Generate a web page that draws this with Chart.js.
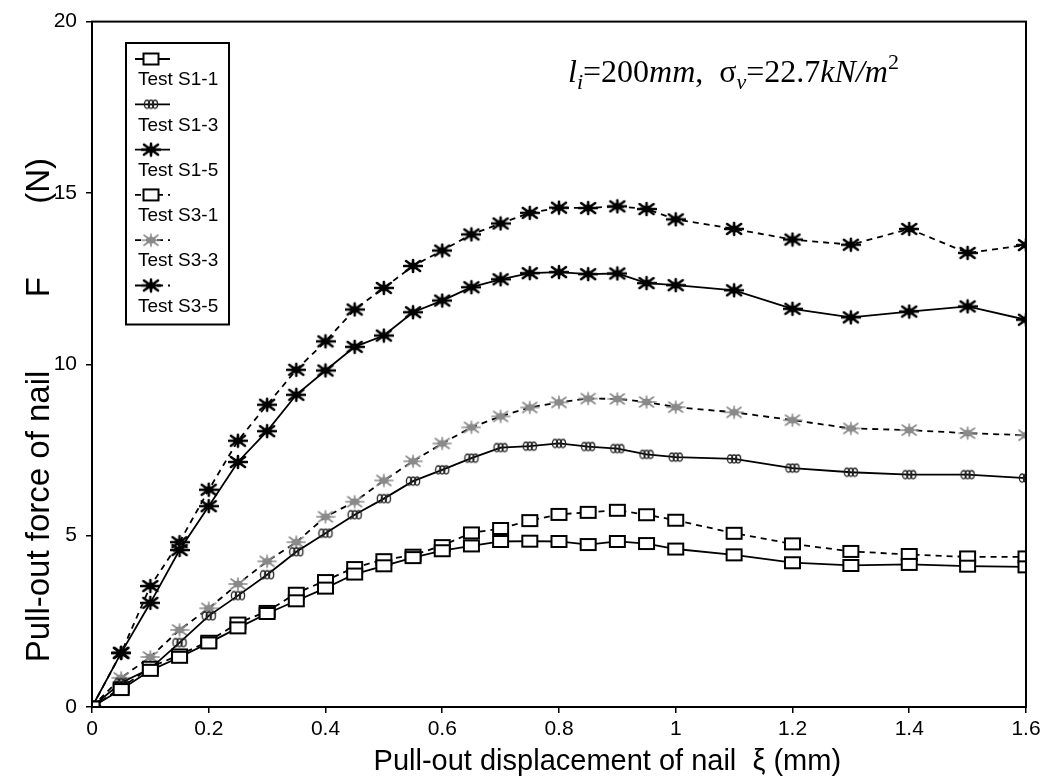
<!DOCTYPE html>
<html>
<head>
<meta charset="utf-8">
<script src="https://cdn.jsdelivr.net/npm/chart.js@4.4.1/dist/chart.umd.min.js"></script>
<style>
  html, body { margin: 0; padding: 0; background: #fff; }
  #wrap { width: 1059px; height: 784px; }
</style>
</head>
<body>
<div id="wrap"><canvas id="pullout" width="1059" height="784"></canvas></div>
<script>
// displacement (mm)
const xs = [0, 0.05, 0.1, 0.15, 0.2, 0.25, 0.3, 0.35, 0.4, 0.45, 0.5, 0.55, 0.6, 0.65, 0.7, 0.75,
            0.8, 0.85, 0.9, 0.95, 1.0, 1.1, 1.2, 1.3, 1.4, 1.5, 1.6];

// pull-out force (N)
const s1_1 = [0, 0.51, 1.07, 1.45, 1.87, 2.31, 2.73, 3.10, 3.47, 3.88, 4.12, 4.36, 4.56, 4.70, 4.83, 4.84,
              4.83, 4.74, 4.83, 4.77, 4.61, 4.44, 4.21, 4.13, 4.16, 4.11, 4.09];
const s1_3 = [0, 0.71, 1.12, 1.88, 2.66, 3.25, 3.86, 4.53, 5.07, 5.61, 6.08, 6.59, 6.92, 7.26, 7.57, 7.61,
              7.69, 7.60, 7.54, 7.37, 7.29, 7.24, 6.97, 6.85, 6.78, 6.78, 6.68];
const s1_5 = [0, 1.58, 3.04, 4.58, 5.86, 7.15, 8.05, 9.11, 9.82, 10.51, 10.84, 11.52, 11.86, 12.25, 12.48, 12.66,
              12.69, 12.63, 12.65, 12.37, 12.31, 12.16, 11.62, 11.37, 11.54, 11.69, 11.30];
const s3_1 = [0, 0.56, 1.16, 1.52, 1.92, 2.45, 2.79, 3.32, 3.69, 4.07, 4.30, 4.43, 4.71, 5.08, 5.21, 5.44,
              5.62, 5.68, 5.74, 5.61, 5.45, 5.07, 4.76, 4.54, 4.45, 4.38, 4.38];
const s3_3 = [0, 0.85, 1.46, 2.25, 2.88, 3.59, 4.25, 4.81, 5.55, 5.99, 6.61, 7.17, 7.69, 8.16, 8.48, 8.74,
              8.89, 9.00, 8.99, 8.90, 8.75, 8.60, 8.37, 8.13, 8.08, 7.99, 7.93];
const s3_5 = [0, 1.58, 3.53, 4.81, 6.34, 7.77, 8.82, 9.84, 10.67, 11.60, 12.23, 12.87, 13.32, 13.79, 14.11, 14.42,
              14.57, 14.56, 14.61, 14.53, 14.23, 13.95, 13.64, 13.49, 13.95, 13.25, 13.48];

const xTicks = [0, 0.2, 0.4, 0.6, 0.8, 1, 1.2, 1.4, 1.6];
const yTicks = [0, 5, 10, 15, 20];

// little marker images
function makeMarker(w, h, draw) {
    const c = document.createElement('canvas');
    c.width = w; c.height = h;
    draw(c.getContext('2d'), w, h);
    return c;
}
const boxMark = makeMarker(19, 15, (g, w, h) => {
    g.fillStyle = '#fff'; g.fillRect(2, 2, w - 4, h - 4);
    g.strokeStyle = '#000'; g.lineWidth = 2; g.strokeRect(2, 2, w - 4, h - 4);
});
const ringMark = makeMarker(18, 12, (g) => {
    g.strokeStyle = '#222'; g.lineWidth = 1.3;
    [5, 9, 13].forEach(cx => { g.beginPath(); g.ellipse(cx, 6, 2.6, 4, 0, 0, Math.PI * 2); g.stroke(); });
});
function starMark(color, lw) {
    return makeMarker(20, 16, (g, w, h) => {
        g.strokeStyle = color; g.lineWidth = lw; g.lineCap = 'round';
        g.beginPath();
        g.moveTo(3, 3); g.lineTo(w - 3, h - 3);
        g.moveTo(3, h - 3); g.lineTo(w - 3, 3);
        g.moveTo(1, h / 2); g.lineTo(w - 1, h / 2);
        g.moveTo(w / 2, 2); g.lineTo(w / 2, h - 2);
        g.stroke();
        g.fillStyle = color;
        g.beginPath(); g.ellipse(w / 2, h / 2, 5, 3.5, 0, 0, Math.PI * 2); g.fill();
    });
}
const heavyStar = starMark('#000', 2.6);
const greyStar = starMark('#8a8a8a', 1.6);

const pts = arr => xs.map((x, i) => ({ x: x, y: arr[i] }));

const series = [
    { label: 'Test S1-1', data: pts(s1_1), pointStyle: boxMark, borderDash: [] },
    { label: 'Test S1-3', data: pts(s1_3), pointStyle: ringMark, borderDash: [] },
    { label: 'Test S1-5', data: pts(s1_5), pointStyle: heavyStar, borderDash: [] },
    { label: 'Test S3-1', data: pts(s3_1), pointStyle: boxMark, borderDash: [6, 5] },
    { label: 'Test S3-3', data: pts(s3_3), pointStyle: greyStar, borderDash: [6, 5] },
    { label: 'Test S3-5', data: pts(s3_5), pointStyle: heavyStar, borderDash: [6, 5] }
].map(d => Object.assign(d, {
    borderColor: '#000', backgroundColor: '#000', borderWidth: 1.8,
    tension: 0, pointRadius: 7, pointHoverRadius: 7
}));

// frame round the plot
const frame = {
    id: 'frame',
    afterDatasetsDraw(chart) {
        const { ctx, chartArea: a } = chart;
        ctx.save();
        ctx.strokeStyle = '#000'; ctx.lineWidth = 2;
        ctx.strokeRect(a.left, a.top, a.right - a.left, a.bottom - a.top);
        ctx.restore();
    }
};

// legend: sample line above its label, boxed
const stackedLegend = {
    id: 'stackedLegend',
    afterDraw(chart) {
        const ctx = chart.ctx;
        const x0 = 126, y0 = 43, w = 103, step = 45.3;
        const n = chart.data.datasets.length;
        const h = 16 + (n - 1) * step + 39;
        ctx.save();
        ctx.fillStyle = '#fff';
        ctx.fillRect(x0, y0, w, h);
        ctx.strokeStyle = '#000'; ctx.lineWidth = 2;
        ctx.strokeRect(x0, y0, w, h);
        chart.data.datasets.forEach((ds, i) => {
            const ly = y0 + 16 + i * step;
            ctx.lineWidth = ds.borderWidth;
            ctx.setLineDash(ds.borderDash);
            ctx.beginPath(); ctx.moveTo(x0 + 9, ly); ctx.lineTo(x0 + 44, ly); ctx.stroke();
            ctx.setLineDash([]);
            const m = ds.pointStyle;
            ctx.drawImage(m, x0 + 25 - m.width / 2, ly - m.height / 2);
            ctx.fillStyle = '#000';
            ctx.font = '19px "Liberation Sans", Arial, sans-serif';
            ctx.textBaseline = 'middle';
            ctx.fillText(ds.label, x0 + 12, ly + 21);
        });
        ctx.restore();
    }
};

// test condition note
const note = {
    id: 'note',
    afterDraw(chart) {
        const ctx = chart.ctx;
        const parts = [
            { t: 'l', f: 'italic', dy: 0 }, { t: 'i', f: 'italic', dy: 7, s: 0.7 },
            { t: '=200', f: '', dy: 0 }, { t: 'mm', f: 'italic', dy: 0 }, { t: ',  ', f: '', dy: 0 },
            { t: 'σ', f: '', dy: 0 }, { t: 'v', f: 'italic', dy: 7, s: 0.7 },
            { t: '=22.7', f: '', dy: 0 }, { t: 'kN/m', f: 'italic', dy: 0 }, { t: '2', f: '', dy: -13, s: 0.7 }
        ];
        let x = 568;
        const base = 82, size = 31.5;
        ctx.save();
        ctx.fillStyle = '#000'; ctx.textBaseline = 'alphabetic';
        parts.forEach(p => {
            ctx.font = p.f + ' ' + Math.round(size * (p.s || 1)) + 'px "Liberation Serif", "Times New Roman", serif';
            ctx.fillText(p.t, x, base + p.dy);
            x += ctx.measureText(p.t).width;
        });
        ctx.restore();
    }
};

const tickFont = { family: '"Liberation Sans", Arial, sans-serif', size: 21 };
const titleFont = { family: '"Liberation Sans", Arial, sans-serif', size: 29 };

new Chart(document.getElementById('pullout'), {
    type: 'line',
    data: { datasets: series },
    options: {
        responsive: false,
        animation: false,
        layout: { padding: { top: 8, right: 33, left: 0, bottom: 0 } },
        plugins: { legend: { display: false }, tooltip: { enabled: false } },
        scales: {
            x: {
                type: 'linear', min: 0, max: 1.6,
                afterBuildTicks: s => { s.ticks = xTicks.map(v => ({ value: v })); },
                afterFit: s => { s.height = 77; },
                border: { display: false },
                grid: { drawOnChartArea: false, color: '#000', lineWidth: 1.5, tickLength: 6 },
                ticks: { color: '#000', font: tickFont, padding: 4, maxRotation: 0, callback: v => String(v) },
                title: {
                    display: true, color: '#000', font: titleFont, padding: { top: 0, bottom: 5 },
                    text: '            Pull-out displacement of nail  ξ (mm)'
                }
            },
            y: {
                min: 0, max: 20,
                afterBuildTicks: s => { s.ticks = yTicks.map(v => ({ value: v })); },
                afterFit: s => { s.width = 92; },
                border: { display: false },
                grid: { drawOnChartArea: false, color: '#000', lineWidth: 1.5, tickLength: 6 },
                ticks: { color: '#000', font: tickFont, padding: 9, callback: v => String(v) },
                title: {
                    display: true, color: '#000', font: { family: titleFont.family, size: 33 },
                    padding: { top: 20, bottom: 0 },
                    text: 'Pull-out force of nail        F        (N)          '
                }
            }
        }
    },
    plugins: [frame, stackedLegend, note]
});
</script>
</body>
</html>
